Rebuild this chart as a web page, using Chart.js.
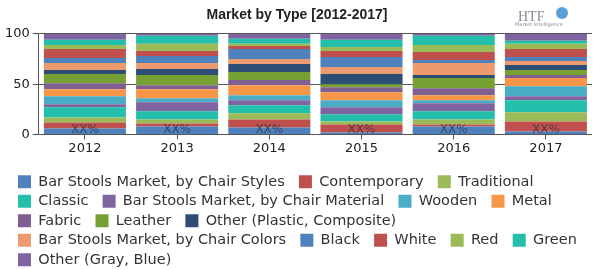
<!DOCTYPE html>
<html>
<head>
<meta charset="utf-8">
<script src="https://cdn.jsdelivr.net/npm/chart.js@4/dist/chart.umd.min.js"></script>
<style>
  html, body { margin: 0; padding: 0; background: #fff; }
  #wrap { width: 600px; height: 270px; position: relative; }
</style>
</head>
<body>
<div id="wrap"><canvas id="myChart" width="600" height="270"></canvas></div>
<script>
const years = ['2012', '2013', '2014', '2015', '2016', '2017']
const yTicks = [0, 50, 100]

// segment shares per year, bottom to top
const chairStyles   = [6, 8, 7, 2, 8, 3]
const contemporary  = [6, 3, 8, 8, 2, 10]
const traditional   = [5, 4, 6, 3, 5, 9]
const classic       = [10, 8, 8, 7, 8, 12]
const chairMaterial = [3, 9, 5, 7, 8, 4]
const wooden        = [8, 4, 5, 7, 3, 10]
const metal         = [7, 9, 10, 8, 5, 8]
const fabric        = [6, 4, 5, 5, 7, 3]
const leather       = [9, 10, 8, 3, 10, 5]
const otherPlastic  = [4, 6, 8, 10, 3, 5]
const chairColors   = [7, 6, 5, 7, 12, 4]
const black         = [5, 7, 10, 10, 3, 4]
const white         = [9, 5, 3, 6, 8, 8]
const red           = [4, 7, 2, 4, 7, 5]
const green         = [5, 8, 5, 7, 9, 3]
const otherGray     = [6, 2, 5, 6, 2, 7]

const seriesNames = [
    'Bar Stools Market, by Chair Styles', 'Contemporary', 'Traditional', 'Classic',
    'Bar Stools Market, by Chair Material', 'Wooden', 'Metal', 'Fabric', 'Leather',
    'Other (Plastic, Composite)', 'Bar Stools Market, by Chair Colors', 'Black', 'White',
    'Red', 'Green', 'Other (Gray, Blue)'
]
const seriesData = [
    chairStyles, contemporary, traditional, classic, chairMaterial, wooden, metal, fabric,
    leather, otherPlastic, chairColors, black, white, red, green, otherGray
]
const seriesColors = [
    '#4f81bd', '#c0504d', '#9bbb59', '#23bfaa', '#8064a2', '#4bacc6', '#f79646', '#7f5f8f',
    '#77a033', '#2c4d75', '#ec9a6e', '#4f81bd', '#c0504d', '#9bbb59', '#23bfaa', '#8064a2'
]

const datasets = seriesNames.map(function(name, i) {
    return {
        label: name,
        data: seriesData[i],
        backgroundColor: seriesColors[i],
        borderWidth: 0,
        barPercentage: 0.89,
        categoryPercentage: 1
    }
})

// "XX%" placeholder labels at the foot of each bar
const xxLabels = {
    id: 'xxLabels',
    afterDatasetsDraw(chart) {
        const ctx = chart.ctx
        const x = chart.scales.x
        const y = chart.scales.y
        ctx.save()
        ctx.font = '12px "DejaVu Sans"'
        ctx.fillStyle = 'rgba(50,50,70,0.75)'
        ctx.textAlign = 'center'
        ctx.textBaseline = 'middle'
        years.forEach(function(yr, i) {
            ctx.fillText('XX%', x.getPixelForValue(i), y.getPixelForValue(5))
        })
        ctx.restore()
    }
}

// nudge the legend block to where it sits in the picture
const legendShift = {
    id: 'legendShift',
    afterLayout(chart) {
        chart.legend.left += 11
        chart.legend.right += 11
        chart.legend.top += 7
        chart.legend.bottom += 7
    }
}

// small HTF logo text in the top right corner
const logo = {
    id: 'logo',
    afterDraw(chart) {
        const ctx = chart.ctx
        ctx.save()
        ctx.fillStyle = '#8a8a9a'
        ctx.font = '14px "Liberation Serif"'
        ctx.textAlign = 'left'
        ctx.fillText('HTF', 518, 17)
        ctx.font = '5px "DejaVu Sans"'
        ctx.fillText('Market Intelligence', 515, 25)
        ctx.fillStyle = '#5aa0d8'
        ctx.beginPath()
        ctx.arc(562, 13, 6, 0, Math.PI * 2)
        ctx.fill()
        ctx.restore()
    }
}

const ctx = document.getElementById('myChart').getContext('2d')
const myChart = new Chart(ctx, {
    type: 'bar',
    data: {
        labels: years,
        datasets: datasets
    },
    options: {
        responsive: false,
        animation: false,
        layout: { padding: { left: 2, right: 8, top: 0, bottom: 0 } },
        plugins: {
            title: {
                display: true,
                text: 'Market by Type [2012-2017]',
                color: '#222',
                font: { family: '"Liberation Sans"', size: 14, weight: 'bold' },
                padding: { top: 7, bottom: 10 }
            },
            legend: {
                position: 'bottom',
                align: 'start',
                labels: {
                    boxWidth: 13,
                    boxHeight: 13,
                    padding: 5,
                    color: '#333',
                    font: { family: '"DejaVu Sans"', size: 14.5 },
                    generateLabels: function(chart) {
                        const items = Chart.defaults.plugins.legend.labels.generateLabels(chart)
                        items.forEach(function(it) { it.text = it.text + '  ' })
                        return items
                    }
                }
            },
            tooltip: { enabled: false }
        },
        scales: {
            x: {
                stacked: true,
                grid: { offset: false, drawOnChartArea: false, drawTicks: true, tickLength: 5, color: '#555' },
                border: { display: false },
                ticks: { color: '#222', font: { family: '"DejaVu Sans"', size: 13 }, padding: 1 },
                afterFit: function(scale) { scale.height = 28 }
            },
            y: {
                stacked: true,
                min: 0,
                max: 100,
                afterBuildTicks: function(axis) {
                    axis.ticks = yTicks.map(function(v) { return { value: v } })
                },
                grid: { color: '#555', tickLength: 6 },
                border: { display: true, color: '#555' },
                ticks: { color: '#222', font: { family: '"DejaVu Sans"', size: 13 }, padding: 3 }
            }
        }
    },
    plugins: [xxLabels, legendShift, logo]
})
</script>
</body>
</html>
